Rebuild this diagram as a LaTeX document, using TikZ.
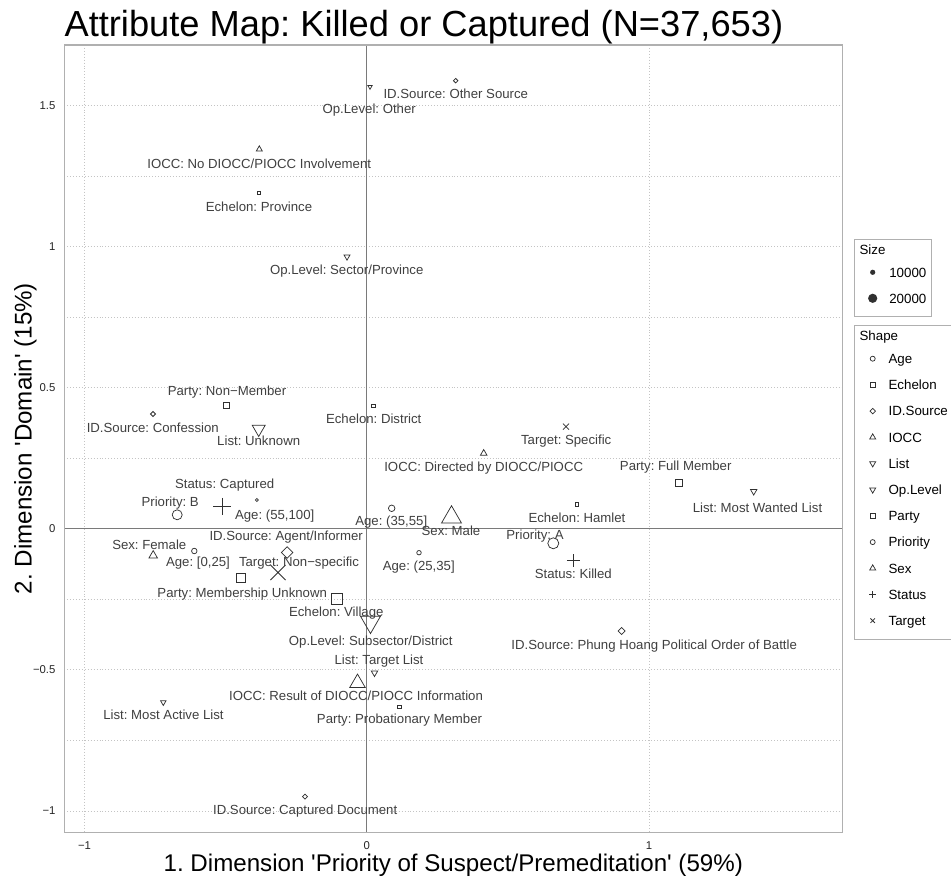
\documentclass[tikz,border=0pt]{standalone}
\usepackage{fontspec}
\setmainfont{Liberation Sans}[Ligatures=TeXOff]
\frenchspacing
\definecolor{lblc}{HTML}{404040}
\definecolor{mkc}{HTML}{303030}
\definecolor{gridc}{HTML}{C4C4C4}
\definecolor{axc}{HTML}{7A7A7A}
\definecolor{framec}{HTML}{B0B0B0}
\newcommand\mkUp[3]{\draw[mk] (#1-#3/2,#2+#3*0.2887) -- (#1+#3/2,#2+#3*0.2887) -- (#1,#2-#3*0.5774) -- cycle;}
\newcommand\mkDown[3]{\draw[mk] (#1-#3/2,#2-#3*0.2887) -- (#1+#3/2,#2-#3*0.2887) -- (#1,#2+#3*0.5774) -- cycle;}
\newcommand\mkSq[3]{\draw[mk] (#1-#3/2,#2-#3/2) rectangle (#1+#3/2,#2+#3/2);}
\newcommand\mkDia[3]{\draw[mk] (#1,#2-#3/2) -- (#1+#3/2,#2) -- (#1,#2+#3/2) -- (#1-#3/2,#2) -- cycle;}
\newcommand\mkCirc[3]{\draw[mk] (#1,#2) circle[radius=#3/2];}
\newcommand\mkPlus[3]{\draw[mk] (#1-#3/2,#2) -- (#1+#3/2,#2) (#1,#2-#3/2) -- (#1,#2+#3/2);}
\newcommand\mkCross[3]{\draw[mk] (#1-#3/2,#2-#3/2) -- (#1+#3/2,#2+#3/2) (#1-#3/2,#2+#3/2) -- (#1+#3/2,#2-#3/2);}
\begin{document}
\begin{tikzpicture}[x=0.75pt,y=-0.75pt,
  lbl/.style={font=\fontsize{9.9}{11}\selectfont, text=lblc, inner sep=0pt, text height=7.1pt, text depth=0pt, anchor=center},
  mk/.style={draw=mkc, line width=0.55pt},
  gridl/.style={draw=gridc, line width=0.5pt, dash pattern=on 0.7pt off 1.5pt},
  axl/.style={draw=axc, line width=0.8pt},
  tick/.style={font=\fontsize{8.5}{10}\selectfont, text=black!85, inner sep=0pt, text height=6.1pt, text depth=0pt},
  leg/.style={font=\fontsize{10}{12}\selectfont, text=black, inner sep=0pt, text height=7.2pt, text depth=0pt, anchor=west},
  legbox/.style={draw=framec, line width=0.7pt}]
\useasboundingbox (0,0) rectangle (951,878);
\fill[white] (0,0) rectangle (951,878);
% title
\node[font=\fontsize{27.2}{30}\selectfont, inner sep=0pt, anchor=base west] (title) at (64.3,36.7) {Attribute Map: Killed or Captured (N=37,653)};
% grid
\foreach \yy in {105.4,175.9,246.5,317.0,387.6,458.1,599.2,669.8,740.3,810.9}
  \draw[gridl] (64.3,\yy) -- (842.3,\yy);
\foreach \xx in {84.5,648.9}
  \draw[gridl] (\xx,45) -- (\xx,832.3);
% axes at zero
\draw[axl] (64.3,528.7) -- (842.3,528.7);
\draw[axl] (366.7,45) -- (366.7,832.3);
% panel frame
\draw[draw=framec, line width=0.8pt] (64.3,45) rectangle (842.3,832.3);
% tick labels
\node[tick, anchor=east] (ty1) at (55.7,105.4) {1.5};
\node[tick, anchor=east] (ty2) at (55.7,246.5) {1};
\node[tick, anchor=east] (ty3) at (55.7,387.6) {0.5};
\node[tick, anchor=east] (ty4) at (55.7,528.7) {0};
\node[tick, anchor=east] (ty5) at (55.7,669.8) {−0.5};
\node[tick, anchor=east] (ty6) at (55.7,810.9) {−1};
\node[tick] (tx1) at (84.5,845.7) {−1};
\node[tick] (tx2) at (366.7,845.7) {0};
\node[tick] (tx3) at (648.9,845.7) {1};
% axis titles
\node[font=\fontsize{18.1}{20}\selectfont, inner sep=0pt, anchor=base] (xt) at (453.3,871.7) {1. Dimension 'Priority of Suspect/Premeditation' (59\%)};
\node[font=\fontsize{18.1}{20}\selectfont, inner sep=0pt, anchor=base, rotate=90] (yt) at (31.7,438.5) {2. Dimension 'Domain' (15\%)};
% points
\mkDia{455.7}{80.7}{4.5}
\mkDown{370}{86.7}{4.5}
\mkUp{259.3}{149.3}{6}
\mkSq{259.3}{193.3}{3}
\mkDown{347}{256.7}{6}
\mkSq{226.3}{405.3}{6}
\mkDia{153}{414}{5}
\mkDown{258.7}{429}{13}
\mkSq{373.3}{406}{3.5}
\mkCross{566}{426.7}{6}
\mkUp{483.7}{453.3}{6.5}
\mkSq{678.7}{482.7}{6.5}
\mkPlus{222}{506.7}{17.5}
\mkCirc{177.2}{514.8}{10}
\mkCirc{256.8}{500}{3}
\mkDown{753.7}{491.3}{6.5}
\mkSq{577}{504.3}{3.5}
\mkCirc{391.7}{508.3}{6.5}
\mkUp{451.5}{517.3}{20}
\mkCirc{553.3}{543.3}{11}
\mkDia{287.2}{552.5}{11.5}
\mkUp{153.2}{555.5}{8.5}
\mkCirc{194.3}{551}{5.5}
\mkCross{278}{572.5}{15}
\mkCirc{419}{552.7}{4.5}
\mkPlus{573.3}{560.7}{13}
\mkSq{240.5}{578.3}{9}
\mkSq{337}{599}{11}
\mkDown{370.5}{622}{20}
\mkDia{621.7}{631}{7}
\mkDown{374.5}{672.8}{6.5}
\mkUp{357.5}{683}{15.5}
\mkDown{163.3}{702.3}{5.5}
\mkSq{399.3}{707}{3.5}
\mkDia{305}{796.7}{5}
% labels
\node[lbl] (l1) at (455.8,93.3) {ID.Source: Other Source};
\node[lbl] (l2) at (369.2,108.3) {Op.Level: Other};
\node[lbl] (l3) at (259.2,163.3) {IOCC: No DIOCC/PIOCC Involvement};
\node[lbl] (l4) at (259,206.7) {Echelon: Province};
\node[lbl] (l5) at (346.7,269.3) {Op.Level: Sector/Province};
\node[lbl] (l6) at (227,390.3) {Party: Non−Member};
\node[lbl] (l7) at (152.8,427.7) {ID.Source: Confession};
\node[lbl] (l8) at (258.7,440.3) {List: Unknown};
\node[lbl] (l9) at (373.7,418.3) {Echelon: District};
\node[lbl] (l10) at (566.2,439.3) {Target: Specific};
\node[lbl] (l11) at (483.7,466.3) {IOCC: Directed by DIOCC/PIOCC};
\node[lbl] (l12) at (675.7,465.3) {Party: Full Member};
\node[lbl] (l13) at (224.7,483.3) {Status: Captured};
\node[lbl] (l14) at (170.2,501.3) {Priority: B};
\node[lbl] (l15) at (274.7,514.7) {Age: (55,100]};
\node[lbl] (l16) at (757.5,507.3) {List: Most Wanted List};
\node[lbl] (l17) at (577,517.3) {Echelon: Hamlet};
\node[lbl] (l18) at (391.3,520.3) {Age: (35,55]};
\node[lbl] (l19) at (451,530.3) {Sex: Male};
\node[lbl] (l20) at (535,534.7) {Priority: A};
\node[lbl] (l21) at (286.2,535.3) {ID.Source: Agent/Informer};
\node[lbl] (l22) at (149.3,544.3) {Sex: Female};
\node[lbl] (l23) at (198,561.7) {Age: [0,25]};
\node[lbl] (l24) at (299,561.7) {Target: Non−specific};
\node[lbl] (l25) at (418.8,565.7) {Age: (25,35]};
\node[lbl] (l26) at (573.3,573.3) {Status: Killed};
\node[lbl] (l27) at (242.2,592.3) {Party: Membership Unknown};
\node[lbl] (l28) at (336.3,611.7) {Echelon: Village};
\node[lbl] (l29) at (370.7,640.3) {Op.Level: Subsector/District};
\node[lbl] (l30) at (654.2,644.3) {ID.Source: Phung Hoang Political Order of Battle};
\node[lbl] (l31) at (379,659.3) {List: Target List};
\node[lbl] (l32) at (356,695.7) {IOCC: Result of DIOCC/PIOCC Information};
\node[lbl] (l33) at (163.5,714.3) {List: Most Active List};
\node[lbl] (l34) at (399.5,719) {Party: Probationary Member};
\node[lbl] (l35) at (305.2,809.3) {ID.Source: Captured Document};
% legend: size
\draw[legbox] (854.3,239.3) rectangle (931.7,316.3);
\node[leg] (sizeT) at (859.3,249.3) {Size};
\fill[mkc] (872.7,272.3) circle[radius=2.6];
\node[leg] (s1) at (889,272.3) {10000};
\fill[mkc] (872.7,298.3) circle[radius=4.6];
\node[leg] (s2) at (889,298.3) {20000};
% legend: shape
\draw[legbox] (854.3,325.5) rectangle (962,639);
\node[leg] (shT) at (859.3,335.3) {Shape};
\mkCirc{872.7}{358.7}{5}
\node[leg] (k1) at (888.3,358.7) {Age};
\mkSq{872.7}{384.9}{4.5}
\node[leg] (k2) at (888.3,384.9) {Echelon};
\mkDia{872.7}{411.1}{5.5}
\node[leg] (k3) at (888.3,411.1) {ID.Source};
\mkUp{872.7}{437.3}{6}
\node[leg] (k4) at (888.3,437.3) {IOCC};
\mkDown{872.7}{463.5}{6}
\node[leg] (k5) at (888.3,463.5) {List};
\mkDown{872.7}{489.7}{6}
\node[leg] (k6) at (888.3,489.7) {Op.Level};
\mkSq{872.7}{515.9}{4.5}
\node[leg] (k7) at (888.3,515.9) {Party};
\mkCirc{872.7}{542.1}{5}
\node[leg] (k8) at (888.3,542.1) {Priority};
\mkUp{872.7}{568.3}{6}
\node[leg] (k9) at (888.3,568.3) {Sex};
\mkPlus{872.7}{594.5}{6.5}
\node[leg] (k10) at (888.3,594.5) {Status};
\mkCross{872.7}{620.7}{4.5}
\node[leg] (k11) at (888.3,620.7) {Target};
\end{tikzpicture}
\end{document}
